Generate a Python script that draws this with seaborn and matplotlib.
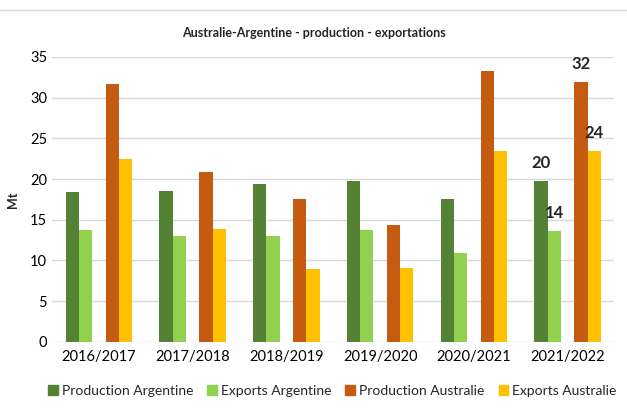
import numpy as np
import pandas as pd
import matplotlib.pyplot as plt
import seaborn as sns
from matplotlib.patches import Patch
from matplotlib.lines import Line2D

# Data (Mt)
campaigns = ["2016/2017", "2017/2018", "2018/2019", "2019/2020", "2020/2021", "2021/2022"]
prod_arg = [18.4, 18.5, 19.4, 19.7, 17.6, 19.8]
exp_arg = [13.7, 13.0, 13.0, 13.7, 10.9, 13.6]
prod_aus = [31.7, 20.9, 17.6, 14.4, 33.3, 31.9]
exp_aus = [22.5, 13.9, 9.0, 9.1, 23.5, 23.5]

series_names = ["Production Argentine", "Exports Argentine", "Production Australie", "Exports Australie"]
series_colors = ["#548235", "#92D050", "#C55A11", "#FFC000"]
blank = " "  # empty slot between Argentine and Australie bars

rows = []
for name, vals in zip(series_names, [prod_arg, exp_arg, prod_aus, exp_aus]):
    for c, v in zip(campaigns, vals):
        rows.append({"campagne": c, "serie": name, "Mt": v})
for c in campaigns:
    rows.append({"campagne": c, "serie": blank, "Mt": 0.0})
df = pd.DataFrame(rows)

hue_order = series_names[:2] + [blank] + series_names[2:]
palette = dict(zip(series_names, series_colors))
palette[blank] = "white"

sns.set_theme(style="white")
plt.rcParams["font.family"] = ["Lato", "DejaVu Sans"]

fig = plt.figure(figsize=(6.27, 4.09), dpi=100)
ax = fig.add_axes([0.083, 0.164, 0.897, 0.697])

sns.barplot(data=df, x="campagne", y="Mt", hue="serie", hue_order=hue_order,
            order=campaigns, palette=palette, width=0.71, linewidth=0,
            saturation=1, errorbar=None, legend=False, ax=ax)

ax.set_ylim(0, 35)
ax.set_yticks(np.arange(0, 36, 5))
ax.yaxis.grid(True, color="#D9D9D9", linewidth=1)
ax.set_axisbelow(True)
for s in ax.spines.values():
    s.set_visible(False)
ax.tick_params(axis="both", length=0, labelsize=10.5, colors="black")
ax.tick_params(axis="x", pad=6)
ax.set_xlabel("")
ax.set_ylabel("Mt", fontsize=9, fontweight="bold", labelpad=8)

# data labels on the last campaign only
last = len(campaigns) - 1
for name in series_names:
    cont = ax.containers[hue_order.index(name)]
    val = df[(df["serie"] == name) & (df["campagne"] == campaigns[last])]["Mt"].iloc[0]
    labels = [""] * len(campaigns)
    labels[last] = f"{val:.0f}"
    ax.bar_label(cont, labels=labels, padding=7, fontsize=12, fontweight="bold")

fig.suptitle("Australie-Argentine - production - exportations", y=0.935,
             fontsize=9, fontweight="bold")

handles = [Patch(color=c, label=n) for n, c in zip(series_names, series_colors)]
fig.legend(handles=handles, loc="center", bbox_to_anchor=(0.53, 0.045), ncol=4,
           frameon=False, fontsize=10, handlelength=0.7, handleheight=0.7,
           handletextpad=0.3, columnspacing=1.0)

fig.add_artist(Line2D([0, 1], [0.975, 0.975], color="#D9D9D9", linewidth=1))

fig.savefig("out.png", dpi=100)
